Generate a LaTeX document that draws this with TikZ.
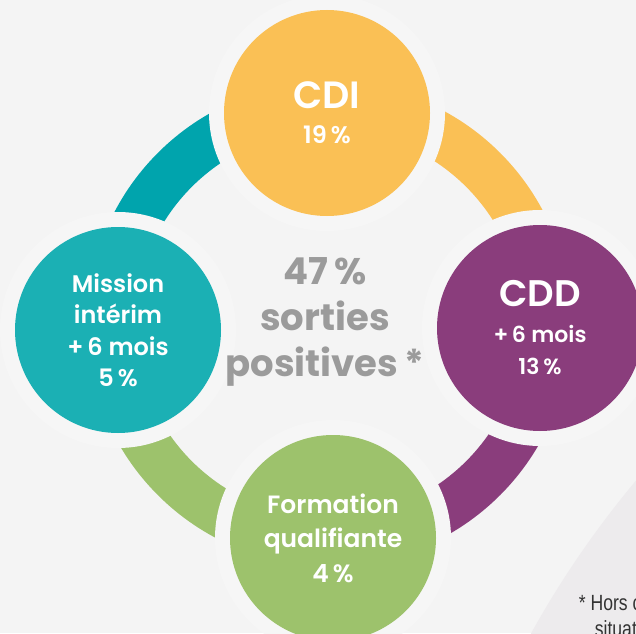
\documentclass[tikz,border=0pt]{standalone}
\usepackage{fontspec}
\setmainfont{Poppins}[BoldFont={Poppins SemiBold}]
\newfontfamily\heavyfont{Poppins}
\newfontfamily\notefont{Liberation Sans}
\usetikzlibrary{positioning}
\definecolor{bgGray}{RGB}{244,244,244}
\definecolor{haloGray}{RGB}{246,246,246}
\definecolor{noteGray}{RGB}{237,235,237}
\definecolor{cdiYellow}{RGB}{250,192,85}
\definecolor{cddPurple}{RGB}{138,61,124}
\definecolor{interimTeal}{RGB}{27,176,180}
\definecolor{interimArc}{RGB}{0,164,173}
\definecolor{formGreen}{RGB}{157,194,108}
\definecolor{centerGray}{RGB}{155,155,155}
\definecolor{noteText}{RGB}{51,51,51}

\begin{document}
\begin{tikzpicture}[x=1pt,y=1pt,
  bubble/.style={circle,fill=#1,minimum size=206pt,inner sep=0pt,
    text=white,align=center,preaction={draw=haloGray,line width=30pt}},
  band/.style={line width=48pt}]
\useasboundingbox (0,0) rectangle (636,633);
\clip (0,0) rectangle (636,633);
% Background and footnote area
\fill[bgGray] (0,0) rectangle (636,633);
\fill[noteGray] (1380,-470) circle[radius=970];

% Ring segments
\coordinate (ring) at (329,309);
\draw[band,cdiYellow] (ring) ++(0:218) arc[start angle=0,end angle=90,radius=218];
\draw[band,interimArc] (ring) ++(90:218) arc[start angle=90,end angle=180,radius=218];
\draw[band,formGreen] (ring) ++(180:218) arc[start angle=180,end angle=270,radius=218];
\draw[band,cddPurple] (ring) ++(270:218) arc[start angle=270,end angle=360,radius=218];

% Bubbles
\node[bubble=cdiYellow,font=\fontsize{24}{35}\selectfont\bfseries] (cdi) at (327,520)
  {{\fontsize{38}{40}\selectfont CDI}\\ 19\,\%};
\node[bubble=cddPurple,font=\fontsize{22}{32}\selectfont\bfseries] (cdd) at (540,305)
  {{\fontsize{37}{40}\selectfont CDD}\\[4pt] +\,6 mois\\ 13\,\%};
\node[bubble=interimTeal,font=\fontsize{24}{31.5}\selectfont\bfseries] (interim) at (118,303)
  {Mission\\ intérim\\ +\,6 mois\\ 5\,\%};
\node[bubble=formGreen,font=\fontsize{25}{34.5}\selectfont\bfseries] (formation) at (333,95)
  {Formation\\ qualifiante\\ 4\,\%};

% Centre text
\node[text=centerGray,align=center,font=\heavyfont\fontsize{37}{46}\selectfont\bfseries]
  (total) at (325,311) {47\,\%\\ sorties\\ positives\,*};

% Footnote
\node[anchor=base west,align=left,text=noteText,xscale=0.8,transform shape,
  font=\notefont\fontsize{22}{26}\selectfont] (note) at (576,-3)
  {* Hors c\\ \hspace*{20pt}situat};
\end{tikzpicture}
\end{document}
